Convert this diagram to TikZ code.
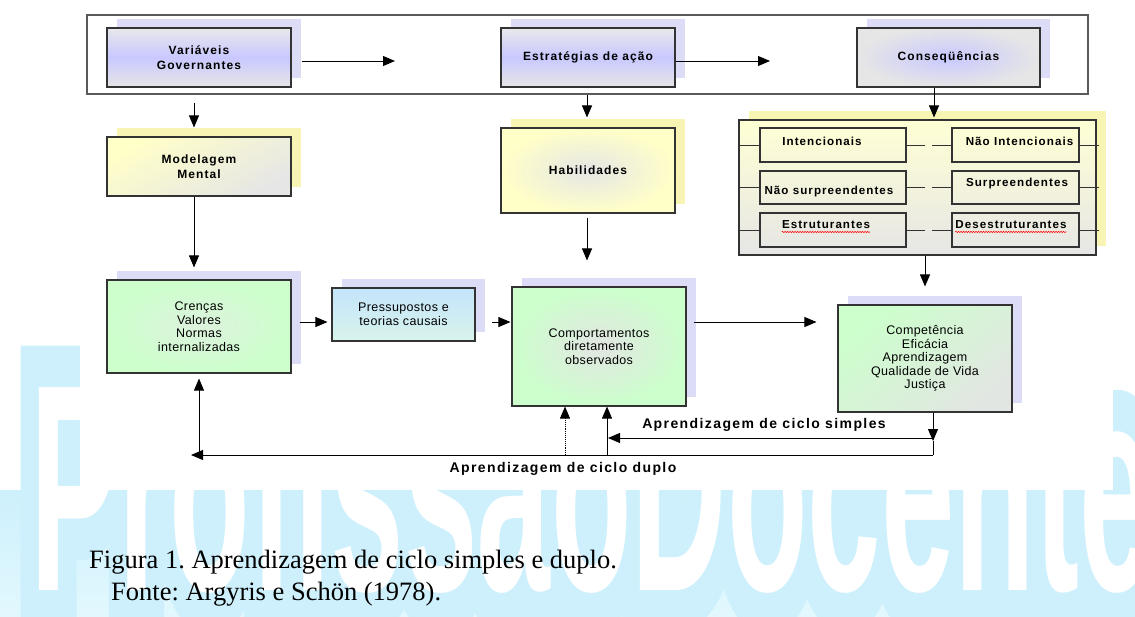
\documentclass[tikz,border=0pt]{standalone}
\usepackage{fontspec}
\setmainfont{Liberation Serif}
\newfontfamily\labfont{Liberation Sans}[LetterSpace=9]
\newfontfamily\looplabfont{Liberation Sans}[LetterSpace=10]
\newfontfamily\txtfont{Liberation Sans}[LetterSpace=3]
\newfontfamily\wmfont{Liberation Sans Bold}
\newfontfamily\wmoutline{Liberation Sans Bold}[FakeBold=28]
\usetikzlibrary{arrows.meta,shadows,decorations.pathmorphing,calc}
\frenchspacing
\definecolor{boxline}{HTML}{333333}
\definecolor{framegray}{HTML}{5A5A5A}
\definecolor{lav}{HTML}{C8C8FF}
\definecolor{shlav}{HTML}{DCDCF6}
\definecolor{shyel}{HTML}{F8F4B4}
\definecolor{gA}{HTML}{E6E6E6}
\definecolor{gB}{HTML}{E8E8EC}
\definecolor{yel}{HTML}{FFFFC8}
\definecolor{yelB}{HTML}{FFFFD4}
\definecolor{grn}{HTML}{CCFFCC}
\definecolor{grnC}{HTML}{DDF2DD}
\definecolor{grnG}{HTML}{E2E6E2}
\definecolor{bluA}{HTML}{C4E4FA}
\definecolor{bluB}{HTML}{D8F4EC}
\definecolor{wmcyan}{HTML}{CDF0FC}
\definecolor{wmlight}{HTML}{E2F8FE}
\tikzset{
  box/.style={draw=boxline, line width=1.1pt, inner sep=0pt, align=center},
  lab/.style={font=\labfont\fontsize{12}{14.5}\selectfont},
  txt/.style={font=\txtfont\fontsize{12.5}{13.5}\selectfont},
  shL/.style={drop shadow={shadow xshift=10pt, shadow yshift=9pt, fill=shlav, opacity=1}},
  shY/.style={drop shadow={shadow xshift=10pt, shadow yshift=9pt, fill=shyel, opacity=1}},
  lavgrad/.style={top color=gB, bottom color=gA, middle color=lav},
  ibox/.style={draw=boxline, line width=1.1pt, inner sep=0pt},
  itext/.style={inner sep=0pt, font=\labfont\fontsize{11.6}{13}\selectfont},
  arr/.style={-{Triangle[length=12pt,width=10pt]}, line width=0.9pt, black},
  plain/.style={line width=0.9pt, black},
  stub/.style={line width=1pt, draw=boxline},
  loopl/.style={inner sep=0pt, font=\looplabfont\bfseries\fontsize{14}{16}\selectfont},
  capt/.style={anchor=base west, inner sep=0pt, font=\fontsize{26.5}{30}\selectfont},
  wavy/.style={draw=red, line width=0.5pt, decorate, decoration={snake, amplitude=0.7pt, segment length=2.5pt}}
}
\begin{document}
\begin{tikzpicture}[x=1pt, y=-1pt]
\useasboundingbox (0,0) rectangle (1135,616);
% watermark
\begin{scope}
\clip (0,0) rectangle (1135,616);
\shade[top color=wmcyan, bottom color=wmlight] (0,490) rectangle (1135,616);
\begin{scope}[shift={(30,590)}, xscale=1.32, yscale=2.95, transform shape]
\node[anchor=base west, inner sep=0pt, text=wmcyan, font=\wmoutline\fontsize{100}{100}\selectfont] (wmo) at (0,0) {ProfissãoDocente};
\node[anchor=base west, inner sep=0pt, text=white, font=\wmfont\fontsize{100}{100}\selectfont] (wm) at (0,0) {ProfissãoDocente};
\end{scope}
\end{scope}
\fill[white] (80,0) rectangle (1113,490);
% top frame
\node[draw=framegray, line width=1.2pt, minimum width=1001pt, minimum height=79pt, inner sep=0pt] (frame) at (587.5,54.5) {};
% top row
\node[box, lab, shL, lavgrad, minimum width=184pt, minimum height=59pt] (vg) at (199,57.5) {\bfseries Variáveis\\\bfseries Governantes};
\node[box, lab, shL, lavgrad, minimum width=174pt, minimum height=59pt] (ea) at (588,57.5) {\bfseries Estratégias de ação};
\node[box, lab, shL, inner color=lav, outer color=gA, minimum width=183pt, minimum height=59pt] (cq) at (948.5,57.5) {\bfseries Conseqüências};
% second row
\node[box, lab, shY, top color=yel, bottom color=gA, shading angle=30, minimum width=184pt, minimum height=59pt] (mm) at (199,166.5) {\bfseries Modelagem\\\bfseries Mental};
\node[box, lab, shY, inner color=gA, outer color=yel, minimum width=174pt, minimum height=85pt] (hab) at (588,170.5) {\bfseries Habilidades};
\node[box, shY, top color=yelB, bottom color=gA, minimum width=357pt, minimum height=135pt] (cb) at (917.5,187.5) {};
% inner consequence boxes
\node[ibox, minimum width=146pt, minimum height=34pt] (i1) at (833,145) {};
\node[ibox, minimum width=127pt, minimum height=34pt] (i2) at (1015.5,145) {};
\node[ibox, minimum width=146pt, minimum height=33pt] (i3) at (833,187.5) {};
\node[ibox, minimum width=127pt, minimum height=33pt] (i4) at (1015.5,187.5) {};
\node[ibox, minimum width=146pt, minimum height=34pt] (i5) at (833,230) {};
\node[ibox, minimum width=127pt, minimum height=34pt] (i6) at (1015.5,230) {};
\node[itext] (t1) at (822,141) {\bfseries Intencionais};
\node[itext] (t2) at (1019.5,141) {\bfseries Não Intencionais};
\node[itext] (t3) at (829,191) {\bfseries Não surpreendentes};
\node[itext] (t4) at (1017,183) {\bfseries Surpreendentes};
\node[itext] (t5) at (826,225) {\bfseries Estruturantes};
\node[itext] (t6) at (1011,225) {\bfseries Desestruturantes};
\draw[wavy] ([yshift=-3pt]t5.base west) -- ([yshift=-3pt]t5.base east);
\draw[wavy] ([yshift=-3pt]t6.base west) -- ([yshift=-3pt]t6.base east);
\foreach \l/\r in {i1/i2, i3/i4, i5/i6} {
  \draw[stub] (\l.west) -- ++(-19,0);
  \draw[stub] (\l.east) -- ++(18,0);
  \draw[stub] (\r.west) -- ++(-19,0);
  \draw[stub] (\r.east) -- ++(19,0);
}
% third row
\node[box, txt, shL, inner color=grnC, outer color=grn, minimum width=184pt, minimum height=93pt] (cr) at (199,326.5) {Crenças\\Valores\\Normas\\internalizadas};
\node[box, txt, shL, top color=bluA, bottom color=bluB, minimum width=143pt, minimum height=53pt] (pr) at (403.5,314.5) {Pressupostos e\\teorias causais};
\node[box, txt, shL, inner color=grnG, outer color=grn, minimum width=174pt, minimum height=119pt] (co) at (599,346.5) {Comportamentos\\diretamente\\observados};
\node[box, txt, shL, top color=grn, bottom color=grnG, shading angle=40, minimum width=174pt, minimum height=107pt] (cp) at (925,358.5) {Competência\\Eficácia\\Aprendizagem\\Qualidade de Vida\\Justiça};
% arrows
\coordinate (e1) at (395,61);
\coordinate (e2) at (770,61);
\draw[arr] ([shift={(10pt,-3.5pt)}]vg.east) -- (e1);
\draw[arr] ([yshift=-3.5pt]ea.east) -- (e2);
\draw[arr] ([shift={(-5pt,-15pt)}]vg.south) -- ([shift={(-5pt,9pt)}]mm.north);
\draw[arr] ([xshift=-5pt]mm.south) -- ([shift={(-5pt,12pt)}]cr.north);
\draw[arr] ([shift={(-1pt,-7pt)}]ea.south) -- ([shift={(-1pt,10pt)}]hab.north);
\draw[arr] ([shift={(-1pt,-4pt)}]hab.south) -- ([shift={(-12pt,26pt)}]co.north);
\draw[arr] ([xshift=-14.5pt]cq.south) -- ([shift={(16.5pt,2pt)}]cb.north);
\draw[arr] ([xshift=7.5pt]cb.south) -- ([yshift=18pt]cp.north);
\draw[arr] ([shift={(8pt,4.5pt)}]cr.east) -- ([shift={(-4pt,-7.5pt)}]pr.west);
\draw[arr] ([shift={(16pt,-7.5pt)}]pr.east) -- ([shift={(-1pt,24.5pt)}]co.west);
\draw[arr] ([shift={(7pt,24.5pt)}]co.east) -- ([shift={(-21pt,36.5pt)}]cp.west);
% feedback loops
\coordinate (fbj) at (933,441);
\coordinate (fb1) at (933,455);
\coordinate (fb2) at (191,455);
\coordinate (s1) at (933,438);
\coordinate (s2) at (608,438);
\coordinate (v1) at (607,455);
\coordinate (v2) at (565,455);
\coordinate (v3) at (199,455);
\draw[arr] ([xshift=8pt]cp.south) -- (fbj);
\draw[plain] (fbj) -- (fb1);
\draw[arr] (fb1) -- (fb2);
\draw[arr] (s1) -- (s2);
\draw[arr] (v1) -- (v1 |- co.south);
\draw[arr, densely dotted] (v2) -- (v2 |- co.south);
\draw[arr] (v3) -- ([yshift=-5pt]cr.south);
\node[loopl] (ls) at (764,425) {Aprendizagem de ciclo simples};
\node[loopl] (ld) at (563,469) {Aprendizagem de ciclo duplo};
% caption
\node[capt] (cap1) at (89,568) {Figura 1. Aprendizagem de ciclo simples e duplo.};
\node[capt] (cap2) at (111,600) {Fonte: Argyris e Schön (1978).};
\end{tikzpicture}
\end{document}
